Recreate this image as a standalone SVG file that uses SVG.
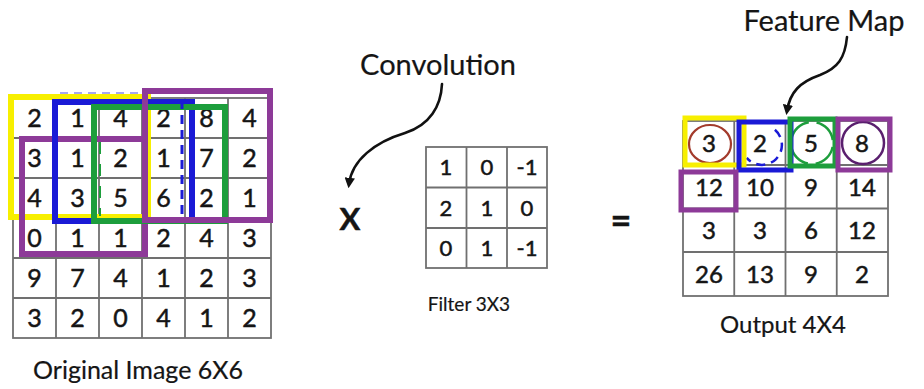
<svg xmlns="http://www.w3.org/2000/svg" width="924" height="389" viewBox="0 0 924 389">
<style>
.t{font-family:Lato,"Open Sans","Liberation Sans",sans-serif;fill:#151515;stroke:#151515;stroke-width:0.5;text-anchor:middle}
.l{stroke-width:0.2}
.d1{font-size:25px}
.d2{font-size:22px}
.d3{font-size:24px}
.lbl{font-size:29px}
.cap{font-size:25px}
.grid{fill:#fff;stroke:#707070;stroke-width:1.8}
.box{fill:none;stroke-width:6}
.ob{fill:none;stroke-width:5}
.y{stroke:#f7ef00}
.b{stroke:#1a1ad6}
.g{stroke:#1d9e3c}
.p{stroke:#8d3a98}
.conn{fill:none;stroke:#111;stroke-width:2.6;stroke-linecap:round}
</style>
<defs>
<marker id="ah" viewBox="0 0 10 10" refX="6" refY="5" markerWidth="4" markerHeight="4" orient="auto">
<path d="M0,0 L10,5 L0,10 Z" fill="#111"/>
</marker>
</defs>
<rect width="924" height="389" fill="#fff"/>

<g id="original-image">
<g class="grid">
<rect x="13" y="98" width="258" height="240"/>
<path d="M56,98V338M99,98V338M142,98V338M185,98V338M228,98V338M13,138H271M13,178H271M13,218H271M13,258H271M13,298H271"/>
</g>
<g class="t d1">
<text x="34.5" y="127">2</text><text x="77.5" y="127">1</text><text x="120.5" y="127">4</text><text x="163.5" y="127">2</text><text x="206.5" y="127">8</text><text x="249.5" y="127">4</text>
<text x="34.5" y="167">3</text><text x="77.5" y="167">1</text><text x="120.5" y="167">2</text><text x="163.5" y="167">1</text><text x="206.5" y="167">7</text><text x="249.5" y="167">2</text>
<text x="34.5" y="207">4</text><text x="77.5" y="207">3</text><text x="120.5" y="207">5</text><text x="163.5" y="207">6</text><text x="206.5" y="207">2</text><text x="249.5" y="207">1</text>
<text x="34.5" y="247">0</text><text x="77.5" y="247">1</text><text x="120.5" y="247">1</text><text x="163.5" y="247">2</text><text x="206.5" y="247">4</text><text x="249.5" y="247">3</text>
<text x="34.5" y="287">9</text><text x="77.5" y="287">7</text><text x="120.5" y="287">4</text><text x="163.5" y="287">1</text><text x="206.5" y="287">2</text><text x="249.5" y="287">3</text>
<text x="34.5" y="327">3</text><text x="77.5" y="327">2</text><text x="120.5" y="327">0</text><text x="163.5" y="327">4</text><text x="206.5" y="327">1</text><text x="249.5" y="327">2</text>
</g>
<path d="M60,93H142" fill="none" stroke="#3a3ae0" stroke-width="2" stroke-dasharray="8 6" opacity="0.45"/>
<rect class="box y" x="11" y="97" width="137" height="120"/>
<rect class="box p" x="22" y="139" width="123" height="115"/>
<rect class="box b" x="55" y="102" width="137" height="119"/>
<rect class="box g" x="94" y="107" width="131" height="114"/>
<path d="M182,100V214" fill="none" stroke="#1a1ad6" stroke-width="3" stroke-dasharray="9 6"/>
<path d="M100,142V216" fill="none" stroke="#1d9e3c" stroke-width="2" stroke-dasharray="12 10"/>
<rect class="box p" x="145" y="91" width="125" height="129"/>
<text class="t l cap" x="138" y="379">Original Image 6X6</text>
</g>

<g id="operator-x">
<text class="t" x="350" y="230" style="font-size:31px;font-weight:bold">X</text>
</g>

<g id="filter">
<g class="grid">
<rect x="426" y="147" width="121" height="121"/>
<path d="M466.5,147V268M507,147V268M426,187.5H547M426,228H547"/>
</g>
<g class="t d2">
<text x="446" y="175">1</text><text x="487" y="175">0</text><text x="527" y="175">-1</text>
<text x="446" y="215.5">2</text><text x="487" y="215.5">1</text><text x="527" y="215.5">0</text>
<text x="446" y="256">0</text><text x="487" y="256">1</text><text x="527" y="256">-1</text>
</g>
<text class="t l" x="469" y="311" style="font-size:19px">Filter 3X3</text>
</g>

<g id="operator-eq">
<text class="t" x="621" y="233" style="font-size:36px;font-weight:bold">=</text>
</g>

<g id="output">
<g class="grid">
<rect x="683" y="121" width="205" height="175"/>
<path d="M734.25,121V296M785.5,121V296M836.75,121V296M683,165H888M683,208.5H888M683,252H888"/>
</g>
<g class="t d3">
<text x="709" y="151.5">3</text><text x="760" y="151.5">2</text><text x="811" y="151.5">5</text><text x="862" y="151.5">8</text>
<text x="709" y="195.5">12</text><text x="760" y="195.5">10</text><text x="811" y="195.5">9</text><text x="862" y="195.5">14</text>
<text x="709" y="239">3</text><text x="760" y="239">3</text><text x="811" y="239">6</text><text x="862" y="239">12</text>
<text x="709" y="283">26</text><text x="760" y="283">13</text><text x="811" y="283">9</text><text x="862" y="283">2</text>
</g>
<ellipse cx="710" cy="144" rx="21" ry="19" fill="none" stroke="#a33b2c" stroke-width="2.2"/>
<path d="M774.9,129.7 A20,20 0 1 1 746.7,157.9" fill="none" stroke="#1a1ad6" stroke-width="2.5" stroke-dasharray="9 6"/>
<circle cx="812" cy="143" r="21" fill="none" stroke="#1d9e3c" stroke-width="2.5" stroke-dasharray="25 8" stroke-dashoffset="-4"/>
<circle cx="863" cy="143" r="21" fill="none" stroke="#5a1f6e" stroke-width="2.5"/>
<rect class="ob y" x="685" y="118" width="59" height="47"/>
<rect class="ob b" x="739" y="122" width="52" height="48"/>
<rect class="ob g" x="790" y="119" width="45" height="47"/>
<rect class="ob p" x="838" y="119" width="52" height="51"/>
<rect class="ob p" x="681" y="172" width="55" height="38"/>
<text class="t l" x="783" y="333" style="font-size:24px">Output 4X4</text>
</g>

<g id="label-convolution">
<text class="t l lbl" x="438" y="75">Convolution</text>
</g>
<g id="label-feature-map">
<text class="t l lbl" x="824" y="31">Feature Map</text>
</g>

<g id="connectors">
<path class="conn" d="M442,84 C441,106 430,125 405,133 C375,142 352,160 349,184" marker-end="url(#ah)"/>
<path class="conn" d="M847,37 C845,58 838,68 820,75 C800,82 790,92 787,111" marker-end="url(#ah)"/>
</g>
</svg>
